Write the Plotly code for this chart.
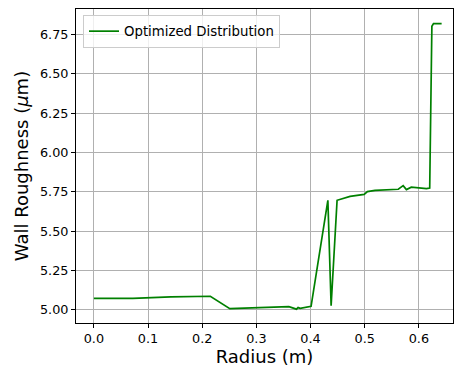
import plotly.graph_objects as go

radius = [0.0, 0.072, 0.142, 0.215, 0.251, 0.314, 0.360, 0.374, 0.377, 0.381, 0.401,
          0.432, 0.438, 0.449, 0.473, 0.499, 0.505, 0.519, 0.562, 0.571, 0.577, 0.586,
          0.614, 0.620, 0.624, 0.627, 0.642]
roughness = [5.074, 5.074, 5.083, 5.087, 5.008, 5.013, 5.021, 5.005, 5.015, 5.010, 5.023,
             5.697, 5.027, 5.697, 5.722, 5.735, 5.752, 5.760, 5.767, 5.790, 5.765, 5.780,
             5.771, 5.775, 6.803, 6.820, 6.820]

x_ticks = [0.0, 0.1, 0.2, 0.3, 0.4, 0.5, 0.6]
y_ticks = [5.00, 5.25, 5.50, 5.75, 6.00, 6.25, 6.50, 6.75]

fig = go.Figure()
fig.add_trace(go.Scatter(x=radius, y=roughness, mode="lines",
                         line=dict(color="green", width=1.7),
                         name="Optimized Distribution"))

W, H = 454, 371
ml, mr, mt, mb = 76, 1, 9, 48
pw, ph = W - ml - mr, H - mt - mb

axis_common = dict(showline=True, linecolor="black", linewidth=1, mirror=True,
                   ticks="outside", ticklen=4, tickcolor="black", tickwidth=1,
                   showgrid=True, gridcolor="#b0b0b0", gridwidth=0.8,
                   zeroline=False, automargin=False,
                   tickfont=dict(family="DejaVu Sans", size=12.8, color="black"))

fig.update_layout(
    width=W, height=H,
    margin=dict(l=ml, r=mr, t=mt, b=mb, autoexpand=False),
    paper_bgcolor="white", plot_bgcolor="white",
    font=dict(family="DejaVu Sans", color="black"),
    showlegend=True,
    legend=dict(x=(83 - ml) / pw, y=1 - (15 - mt) / ph, xanchor="left", yanchor="top",
                bgcolor="rgba(255,255,255,0.8)", bordercolor="#cccccc", borderwidth=1,
                font=dict(family="DejaVu Sans", size=13.3, color="black"),
                itemwidth=30, tracegroupgap=0),
    xaxis=dict(range=[-0.033, 0.663], tickvals=x_ticks, tickformat=".1f",
               title=dict(text="Radius (m)", font=dict(family="DejaVu Sans", size=18), standoff=5),
               **axis_common),
    yaxis=dict(range=[4.917, 6.913], tickvals=y_ticks, tickformat=".2f",
               title=dict(text="Wall Roughness (<i>μ</i>m)", font=dict(family="DejaVu Sans", size=18), standoff=6),
               **axis_common),
)

fig.write_html("out.html", config={"displayModeBar": False},
               post_script="document.body.style.margin='0';document.body.style.overflow='hidden';")
